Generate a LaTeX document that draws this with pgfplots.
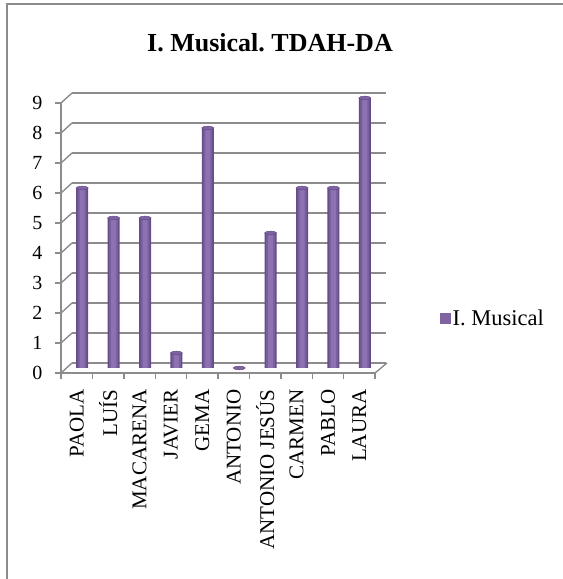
\documentclass[border=0pt]{standalone}
\usepackage{fontspec}
\setmainfont{Liberation Serif}
\usepackage{pgfplots}
\pgfplotsset{compat=1.18}
\definecolor{barM}{HTML}{8064A2}
\definecolor{barD}{HTML}{644C86}
\definecolor{barMM}{HTML}{7A5E9E}
\definecolor{barL}{HTML}{8C72B0}
\definecolor{capc}{HTML}{7E62A4}
\definecolor{gridc}{HTML}{8C8C8C}
\begin{document}
\frenchspacing
\begin{tikzpicture}[x=1bp,y=1bp]
\useasboundingbox (0,0) rectangle (563,579);
\draw[gridc, line width=1.2bp] (7,0) -- (7,575) -- (563,575);
\node[font=\bfseries\fontsize{26bp}{30bp}\selectfont] at (270,536) {I. Musical. TDAH-DA};
% back wall grid
\begin{axis}[at={(72bp,216bp)}, anchor=south west, scale only axis,
  width=314bp, height=270bp, xmin=0, xmax=10, ymin=0, ymax=9,
  axis line style={draw=none}, xtick=\empty, ytick={0,...,9}, yticklabels={},
  major tick length=0pt, ymajorgrids, grid style={gridc, line width=1.4bp}]
\addplot[draw=none] coordinates {(0,0)};
\end{axis}
% floor and connectors
\draw[gridc, line width=1.4bp] (61,206) -- (72,216) (375,206) -- (387,216);
\foreach \i in {1,...,9} {\draw[gridc, line width=1.4bp] (61,206+30*\i) -- (72,216+30*\i);}
% front axis
\begin{axis}[at={(61bp,206bp)}, anchor=south west, scale only axis,
  width=314bp, height=270bp, xmin=0, xmax=10, ymin=0, ymax=9,
  axis x line*=bottom, axis y line*=left,
  axis line style={gridc, line width=1.4bp},
  tick style={gridc, line width=1.4bp}, major tick length=6bp, tick align=outside,
  ytick={0,...,9},
  yticklabel style={font=\fontsize{20bp}{24bp}\selectfont, xshift=-9bp},
  /pgf/number format/assume math mode=true,
  xtick={0,...,10}, xticklabels={},
  extra x ticks={0.5,1.5,2.5,3.5,4.5,5.5,6.5,7.5,8.5,9.5},
  extra x tick labels={PAOLA,LUÍS,MACARENA,JAVIER,GEMA,ANTONIO,ANTONIO JESÚS,CARMEN,PABLO,LAURA},
  extra x tick style={tick style={draw=none}},
  xticklabel style={rotate=90, anchor=east, font=\fontsize{21bp}{24bp}\selectfont, xshift=-7bp}]
\addplot[draw=none] coordinates {(0,0)};
\end{axis}
% bars
\begin{axis}[at={(66.5bp,211bp)}, anchor=south west, scale only axis,
  width=314bp, height=270bp, xmin=0, xmax=10, ymin=0, ymax=9,
  hide axis, clip=false, bar shift=0pt,
  legend style={at={(1.178,0.185)}, anchor=west, draw=none, fill=none,
    font=\fontsize{22.5bp}{26bp}\selectfont},
  legend image code/.code={\fill[barM] (-3bp,-5.5bp) rectangle (8bp,5.5bp);}]
\pgfplotstableread{
x y
0.5 6
1.5 5
2.5 5
3.5 0.5
4.5 8
5.5 0
6.5 4.5
7.5 6
8.5 6
9.5 9
}\datatable
\addplot[ybar, bar width=12bp, draw=none, fill=barD] table {\datatable};
\addlegendentry{I. Musical}
\addplot[ybar, bar width=9bp, draw=none, fill=barMM, forget plot] table {\datatable};
\addplot[ybar, bar width=5bp, draw=none, fill=barL, forget plot] table {\datatable};
\addplot[only marks, mark=*, mark size=6bp, mark options={yscale=0.3, fill=capc, draw=barD, line width=0.5bp}, forget plot] table {\datatable};
\end{axis}
\end{tikzpicture}
\end{document}
